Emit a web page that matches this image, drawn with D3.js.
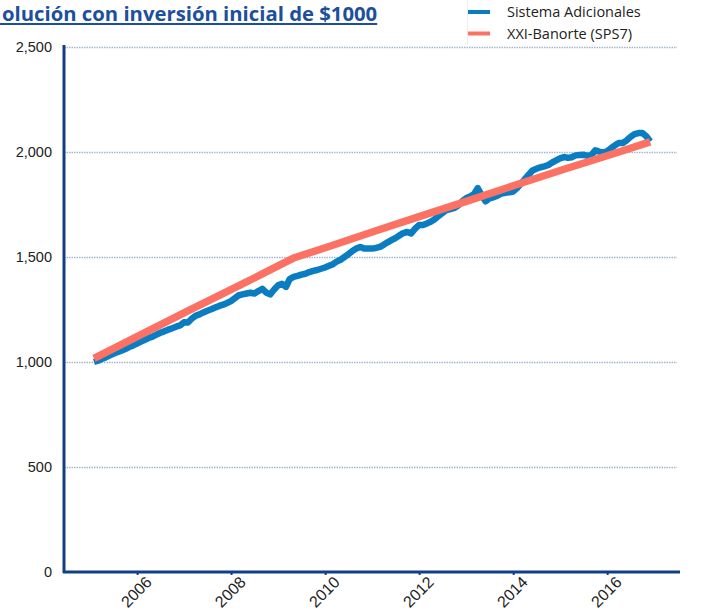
<!DOCTYPE html>
<html>
<head>
<meta charset="utf-8">
<script src="https://cdn.jsdelivr.net/npm/d3@7"></script>
<style>
  body { margin: 0; background: #fff; }
  svg { display: block; font-family: "Open Sans", "Noto Sans", sans-serif; }
  .grid line { stroke: #a3b6cf; stroke-width: 1.6; stroke-dasharray: 1.5,1; }
  .grid path { display: none; }
  .eje path, .eje line { stroke: #123f84; }
  .eje text { fill: #222; font-size: 14.5px; }
</style>
</head>
<body>
<svg width="708" height="615"></svg>
<script>
// datos (valor de $1000 invertidos)
var inicioAdic = new Date(2005, 0, 31);
var valoresAdic = [
  1000, 1006, 1014, 1022, 1031, 1039, 1047, 1054, 1062, 1071, 1079, 1088,
  1097, 1106, 1114, 1121, 1130, 1139, 1146, 1154, 1161, 1168, 1174, 1189,
  1188, 1207, 1220, 1227, 1236, 1244, 1251, 1259, 1267, 1273, 1281, 1290,
  1304, 1318, 1322, 1326, 1330, 1326, 1338, 1348, 1330, 1322, 1345, 1365,
  1372, 1358, 1395, 1405, 1410, 1416, 1420, 1428, 1434, 1438, 1444, 1450,
  1458, 1466, 1478, 1487, 1500, 1514, 1528, 1540, 1548, 1540, 1541, 1540,
  1543, 1548, 1558, 1570, 1580, 1590, 1602, 1614, 1619, 1612, 1635, 1652,
  1652, 1660, 1668, 1680, 1695, 1710, 1724, 1728, 1734, 1745, 1765, 1780,
  1788, 1800, 1828, 1795, 1765, 1780, 1784, 1792, 1802, 1806, 1808, 1812,
  1828, 1850, 1870, 1892, 1912, 1920, 1927, 1932, 1938, 1950, 1960, 1970,
  1976, 1972, 1975, 1984, 1986, 1987, 1982, 1985, 2008, 2002, 1998, 2003,
  2018, 2032, 2043, 2043, 2055, 2072, 2085, 2090, 2090, 2075, 2050
];

var fechasBanorte = ["2005-01", "2005-07", "2006-01", "2006-07", "2007-01", "2007-07",
  "2008-01", "2008-07", "2009-01", "2009-04", "2010-01", "2011-01", "2012-01",
  "2013-01", "2014-01", "2015-01", "2016-01", "2016-11"];
var valoresBanorte = [1017, 1073, 1130, 1186, 1243, 1298, 1354, 1410, 1467, 1495,
  1550, 1625, 1698, 1771, 1845, 1918, 1988, 2048];

var ticksY = [0, 500, 1000, 1500, 2000, 2500];
var series = ["Sistema Adicionales", "XXI-Banorte (SPS7)"];
var colores = ["#0a7dc2", "#fb7264"];

var parseMes = d3.timeParse("%Y-%m");
var adic = valoresAdic.map(function(v, i) {
  return { fecha: d3.timeMonth.offset(inicioAdic, i), valor: v };
});
var banorte = fechasBanorte.map(function(f, i) {
  var d = parseMes(f);
  return { fecha: new Date(d.getFullYear(), d.getMonth() + 1, 0), valor: valoresBanorte[i] };
});

var svg = d3.select("svg");
var x0 = 64, x1 = 680, y0 = 572, y1 = 47;

var xScale = d3.scaleTime()
  .domain([new Date(2004, 5, 12), new Date(2017, 6, 20)])
  .range([x0, x1]);
var yScale = d3.scaleLinear().domain([0, 2500]).range([y0, y1]);

// lineas de cuadricula punteadas
svg.append("g")
  .attr("class", "grid")
  .attr("transform", "translate(" + x0 + ",0)")
  .call(d3.axisRight(yScale).tickValues(ticksY.slice(1)).tickSize(613).tickFormat(""));

var linea = d3.line()
  .x(function(d) { return xScale(d.fecha); })
  .y(function(d) { return yScale(d.valor); });

svg.append("path")
  .datum(adic)
  .attr("fill", "none")
  .attr("stroke", colores[0])
  .attr("stroke-width", 6.5)
  .attr("stroke-linejoin", "round")
  .attr("d", linea);

svg.append("path")
  .datum(banorte)
  .attr("fill", "none")
  .attr("stroke", colores[1])
  .attr("stroke-width", 7.5)
  .attr("stroke-linejoin", "round")
  .attr("d", linea);

// eje y
var ejeY = svg.append("g")
  .attr("class", "eje")
  .attr("transform", "translate(" + x0 + ",0)")
  .call(d3.axisLeft(yScale).tickValues(ticksY).tickSize(0).tickPadding(12).tickFormat(d3.format(",")));
ejeY.select("path").attr("stroke-width", 3).attr("d", "M0," + (y0 + 1) + "V" + (y1 - 2));

// eje x
var ejeX = svg.append("g")
  .attr("class", "eje")
  .attr("transform", "translate(0," + y0 + ")")
  .call(d3.axisBottom(xScale).ticks(d3.timeYear.every(2)).tickSize(3).tickFormat(d3.timeFormat("%Y")));
ejeX.select("path").attr("stroke-width", 3).attr("d", "M" + (x0 - 1) + ",0H" + x1);
ejeX.selectAll("line").attr("stroke-width", 2);
ejeX.selectAll("text")
  .attr("text-anchor", "end")
  .attr("dy", "0.35em")
  .style("font-size", "16px")
  .attr("transform", "translate(7,3) rotate(-45)");

// titulo
var titulo = svg.append("text")
  .attr("x", 2)
  .attr("y", 20.5)
  .attr("fill", "#1c4f9c")
  .attr("font-size", 20.3)
  .attr("font-weight", "bold")
  .text("olución con inversión inicial de $1000");
var ancho = titulo.node().getComputedTextLength();
svg.append("line")
  .attr("x1", 0).attr("x2", 2 + ancho)
  .attr("y1", 24).attr("y2", 24)
  .attr("stroke", "#1c4f9c").attr("stroke-width", 1.8);

// leyenda
svg.append("line")
  .attr("x1", 467.5).attr("x2", 467.5).attr("y1", 0).attr("y2", 45)
  .attr("stroke", "#eeeeee");
var leyenda = svg.selectAll(".ley")
  .data(series)
  .enter().append("g")
  .attr("class", "ley")
  .attr("transform", function(d, i) { return "translate(468," + (12 + i * 21.5) + ")"; });
leyenda.append("line")
  .attr("x1", 0).attr("x2", 22)
  .attr("stroke", function(d, i) { return colores[i]; })
  .attr("stroke-width", 4);
leyenda.append("text")
  .attr("x", 39)
  .attr("dy", "0.35em")
  .attr("font-size", 14.5)
  .attr("fill", "#222")
  .text(function(d) { return d; });
</script>
</body>
</html>
